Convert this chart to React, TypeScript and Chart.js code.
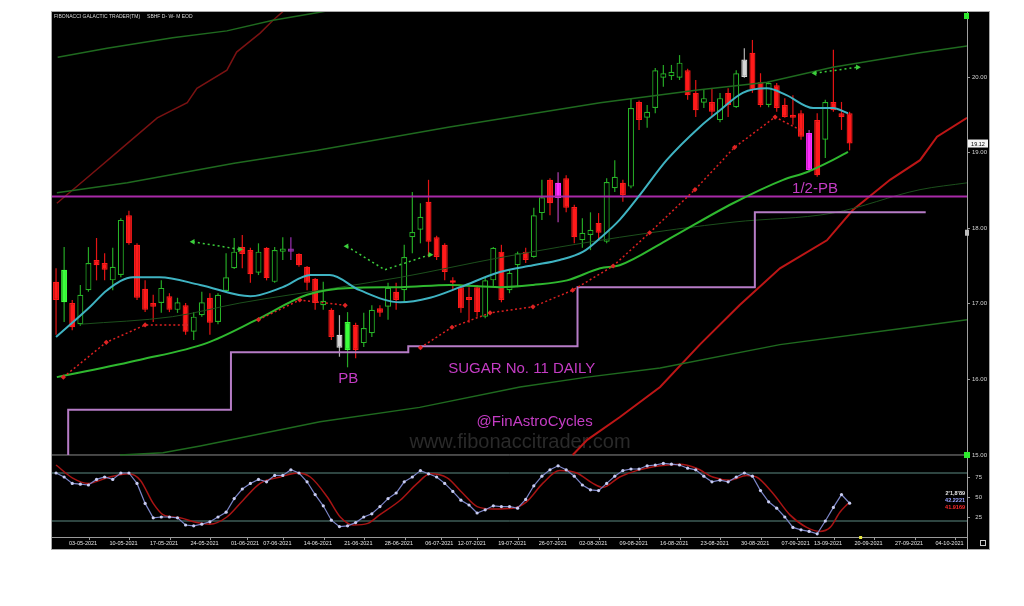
import React, { useEffect, useRef } from "react";
import { Chart, registerables } from "chart.js";

Chart.register(...registerables);

// ---------- Candles (index 0 = 29-04-2021) ----------
const candleOpen = [
  17.29, 17.02, 17.01, 16.73, 17.18, 17.58, 17.54, 17.31, 17.38, 18.17,
  17.78, 17.2, 17.01, 17.01, 17.1, 16.92, 16.98, 16.63, 16.85, 17.08,
  16.76, 17.17, 17.47, 17.75, 17.71, 17.41, 17.74, 17.29, 17.7, 17.72,
  17.66, 17.49, 17.33, 16.98, 16.92, 16.42, 16.39, 16.72, 16.48, 16.61,
  16.94, 16.96, 17.16, 17.18, 17.88, 17.98, 18.35, 17.88, 17.78, 17.31,
  17.22, 17.09, 17.22, 16.83, 17.31, 17.69, 17.18, 17.51, 17.69, 17.62,
  18.2, 18.64, 18.4, 18.66, 18.28, 17.84, 17.91, 18.07, 17.82, 18.53,
  18.6, 18.55, 19.67, 19.46, 19.59, 19.99, 20.01, 19.99, 20.09, 19.79,
  19.66, 19.67, 19.43, 19.79, 19.6, 20.0, 20.32, 19.93, 19.63, 19.89,
  19.63, 19.5, 19.52, 19.26, 19.43, 19.17, 19.67, 19.52, 19.52,
];
const candleHigh = [
  17.47, 17.75, 17.05, 17.25, 17.75, 17.87, 17.67, 17.74, 18.13, 18.23,
  17.8, 17.31, 17.12, 17.31, 17.14, 17.08, 17.01, 16.89, 17.16, 17.14,
  17.14, 17.67, 17.87, 17.91, 17.74, 17.8, 17.75, 17.75, 17.88, 17.88,
  17.67, 17.5, 17.34, 17.29, 16.94, 16.85, 16.89, 16.75, 16.88, 16.98,
  16.98, 17.28, 17.28, 17.78, 18.48, 18.33, 18.64, 17.9, 17.8, 17.35,
  17.25, 17.22, 17.25, 17.35, 17.75, 17.78, 17.45, 17.69, 17.74, 18.27,
  18.64, 18.66, 18.74, 18.7, 18.31, 18.13, 18.21, 18.2, 18.66, 18.9,
  18.64, 19.72, 19.69, 19.63, 20.12, 20.16, 20.16, 20.29, 20.11, 19.96,
  19.83, 19.85, 19.79, 19.85, 20.09, 20.38, 20.49, 20.05, 19.93, 19.92,
  19.72, 19.76, 19.56, 19.3, 19.52, 19.7, 20.36, 19.67, 19.54,
];
const candleLow = [
  16.59, 16.76, 16.65, 16.71, 17.16, 17.31, 17.31, 17.18, 17.35, 17.78,
  17.05, 16.89, 16.76, 16.88, 16.89, 16.88, 16.59, 16.52, 16.83, 16.59,
  16.73, 17.16, 17.46, 17.47, 17.28, 17.38, 17.31, 17.28, 17.58, 17.58,
  17.49, 17.18, 16.92, 16.92, 16.52, 16.3, 16.16, 16.28, 16.43, 16.56,
  16.83, 16.79, 16.92, 17.02, 17.67, 17.8, 17.62, 17.58, 17.31, 17.18,
  16.88, 16.75, 16.83, 16.81, 17.22, 17.02, 17.14, 17.22, 17.54, 17.61,
  18.11, 18.17, 18.08, 18.21, 17.8, 17.74, 17.71, 17.84, 17.8, 18.48,
  18.35, 18.53, 19.3, 19.33, 19.52, 19.87, 19.96, 19.96, 19.7, 19.47,
  19.59, 19.47, 19.4, 19.47, 19.59, 19.99, 19.79, 19.6, 19.6, 19.54,
  19.46, 19.37, 19.17, 18.74, 18.68, 18.93, 19.54, 19.3, 19.03,
];
const candleClose = [
  17.05, 17.45, 16.69, 17.12, 17.54, 17.51, 17.45, 17.49, 18.11, 17.8,
  17.08, 16.92, 16.96, 17.21, 16.92, 17.02, 16.63, 16.83, 17.02, 16.75,
  17.12, 17.35, 17.69, 17.66, 17.39, 17.69, 17.34, 17.71, 17.72, 17.7,
  17.51, 17.28, 17.01, 17.04, 16.56, 16.59, 16.76, 16.39, 16.68, 16.92,
  16.88, 17.21, 17.05, 17.62, 17.95, 18.15, 17.82, 17.62, 17.42, 17.28,
  16.94, 17.05, 16.89, 17.31, 17.74, 17.05, 17.41, 17.67, 17.58, 18.17,
  18.41, 18.33, 18.6, 18.27, 17.88, 17.94, 17.98, 17.94, 18.61, 18.68,
  18.44, 19.59, 19.43, 19.54, 20.09, 20.05, 20.07, 20.19, 19.76, 19.56,
  19.72, 19.54, 19.72, 19.63, 20.05, 20.23, 19.83, 19.63, 19.92, 19.59,
  19.47, 19.46, 19.21, 18.77, 18.7, 19.67, 19.56, 19.47, 19.12,
];
// r = red, g = hollow green, G = bright green, w = white/grey, m = magenta, p = purple doji
const candleKind =
  "rGrggrrggr" + "rrrgrgrggr" + "gggrrgrggp" + "rrrgrwGrgg" + "rgrgggrrrr" +
  "rrrggrggrg" + "grmrrggrgg" + "rgrgggggrr" + "grgrgwrrgr" + "rrrmrgrrr";

// ---------- Axis labels ----------
const dateTickIndex = [2, 7, 12, 17, 22, 26, 31, 36, 41, 46, 50, 55, 60, 65, 70, 75, 80, 85, 90, 94, 99, 104, 109];
const dateTickLabel = [
  "03-05-2021", "10-05-2021", "17-05-2021", "24-05-2021", "01-06-2021", "07-06-2021",
  "14-06-2021", "21-06-2021", "28-06-2021", "06-07-2021", "12-07-2021", "19-07-2021",
  "26-07-2021", "02-08-2021", "09-08-2021", "16-08-2021", "23-08-2021", "30-08-2021",
  "07-09-2021", "13-09-2021", "20-09-2021", "27-09-2021", "04-10-2021",
];
const priceTicks = [15, 16, 17, 18, 19, 20];
const oscTicks = [75, 50, 25];

// ---------- Indicator lines [barIndex, value] ----------
const cyanMA = [
  [0, 16.56], [4.2, 16.96], [6.3, 17.18], [9.5, 17.35], [12.8, 17.35], [17.8, 17.25], [24, 17.1],
  [28, 17.22], [31.4, 17.38], [33.8, 17.38], [37.5, 17.18], [42.5, 17.02], [46.2, 17.08],
  [49.9, 17.22], [54.8, 17.42], [58.9, 17.51], [62.2, 17.58], [65.1, 17.69], [67.2, 17.87],
  [69.6, 18.11], [72.1, 18.44], [75.4, 18.9], [79.5, 19.34], [82, 19.56], [84.8, 19.79],
  [87.8, 19.85], [90.2, 19.76], [93.5, 19.59], [95.9, 19.59], [97.8, 19.52],
];
const greenMA = [
  [0.1, 16.03], [10.4, 16.26], [18.6, 16.48], [24.8, 16.79], [31, 17.12], [36.3, 17.21],
  [42.5, 17.22], [48.6, 17.25], [54.8, 17.22], [58.9, 17.25], [63.1, 17.31], [67.2, 17.47],
  [69.6, 17.51], [75.4, 17.84], [83.6, 18.33], [89.8, 18.64], [92.7, 18.74], [95.9, 18.9], [97.8, 19.01],
];
const darkGreenMA = [
  [3, 16.73], [14.4, 16.83], [22.7, 17.01], [35.1, 17.22], [42.5, 17.35], [54.8, 17.61],
  [69.6, 17.88], [83.6, 18.08], [95.9, 18.2], [106.7, 18.51], [112.5, 18.6],
];
const channelTop = [
  [0.2, 20.26], [6.3, 20.38], [14.4, 20.52], [21.1, 20.61], [26.8, 20.75], [32.2, 20.85], [37.5, 20.95],
];
const channelUpper = [
  [0.1, 18.47], [8.8, 18.6], [22, 18.86], [32.3, 19.03], [48.6, 19.34], [67.2, 19.66],
  [79.5, 19.83], [87.8, 19.93], [95.9, 20.13], [106.7, 20.32], [112.5, 20.41],
];
const channelLower = [
  [7.9, 15.0], [13.2, 15.03], [17.8, 15.12], [32.6, 15.44], [44.9, 15.63], [57.3, 15.9],
  [65.6, 16.03], [74.6, 16.15], [89.4, 16.46], [104.2, 16.67], [112.5, 16.79],
];
const redChannelUpper = [
  [0.1, 18.33], [4.2, 18.7], [7.8, 19.03], [12.5, 19.46], [16.2, 19.66], [17.4, 19.85],
  [21.1, 20.09], [22.3, 20.33], [25.2, 20.58], [26.8, 20.75], [28.9, 20.95],
];
const redChannelLower = [
  [63.8, 15.0], [65.6, 15.2], [69.6, 15.5], [74.6, 15.9], [79.5, 16.46], [84.4, 16.98],
  [89.4, 17.47], [95.2, 17.84], [98.4, 18.24], [103, 18.64], [106.7, 18.9], [108.8, 19.21], [112.5, 19.46],
];
const trailStopA = [[0.9, 16.03], [6.2, 16.49], [11, 16.72], [16, 16.72]];
const trailStopB = [[25, 16.79], [30.1, 17.05], [35.7, 16.98]];
const trailStopC = [
  [45, 16.42], [48.9, 16.69], [53.6, 16.88], [58.9, 16.96], [63.8, 17.18], [68.8, 17.5],
  [73.3, 17.94], [78.9, 18.51], [83.8, 19.07], [88.8, 19.47], [91.9, 19.3],
];
const arrow1 = [[16.9, 17.82], [22.7, 17.72]];
const arrow2 = [[35.9, 17.76], [40.6, 17.45], [46.2, 17.65]];
const arrow3 = [[93.7, 20.05], [99, 20.13]];
const magentaLevel = [[-0.5, 18.42], [112.5, 18.42]];
const lavenderSteps = [
  [1.5, 15.0], [1.5, 15.6], [21.6, 15.6], [21.6, 16.36], [43.5, 16.36], [43.5, 16.44],
  [64.4, 16.44], [64.4, 17.22], [86.3, 17.22], [86.3, 18.21], [107.4, 18.21],
];
const panelSeparator = [[-0.5, 15.0], [112.5, 15.0]];

// ---------- Stochastic oscillator ----------
const stochK = [
  80, 75, 67, 66, 65, 72, 75, 72, 80, 80,
  67, 42, 24, 25, 25, 24, 15, 14, 16, 19,
  25, 31, 48, 60, 67, 72, 69, 77, 77, 84,
  80, 69, 53, 39, 21, 13, 14, 18, 25, 29,
  38, 48, 55, 69, 75, 83, 79, 75, 67, 57,
  46, 40, 30, 34, 39, 38, 38, 36, 47, 64,
  76, 84, 89, 84, 76, 65, 59, 58, 67, 76,
  83, 85, 85, 89, 90, 92, 91, 90, 86, 84,
  76, 69, 71, 69, 75, 80, 76, 58, 44, 36,
  25, 12, 9, 7, 4, 20, 37, 53, 42.22,
];
const stochD = [
  [0, 90], [2, 74], [4, 67], [6.3, 74], [9, 79], [10.4, 71], [12, 42], [13.2, 28], [15.3, 24],
  [17.4, 18], [19, 16], [21.1, 25], [23.1, 46], [25.2, 67], [27.7, 75], [29.8, 80], [31.4, 75],
  [33.5, 50], [35.1, 25], [36.7, 15], [38.5, 17], [40, 28], [42.5, 46], [44.6, 67], [46.2, 79],
  [48.3, 74], [50.2, 55], [52, 38], [54, 35], [56.4, 36], [58.1, 44], [60.1, 67], [62.2, 83],
  [64.3, 80], [66.3, 67], [67.5, 62], [69.6, 75], [71.7, 83], [74.6, 89], [77, 91], [79.1, 86],
  [81.1, 75], [83.2, 71], [85.3, 77], [86.5, 75], [88.5, 55], [90.6, 28], [92.7, 12], [94.3, 7],
  [95.6, 12], [96.8, 31], [97.8, 41.92],
];
const oscLevels = [80, 20];
const oscLegend = ["2'1,8'89", "42.2221", "41.9169"];

// ---------- Text annotations [text, barIndex, price, align] ----------
const annotations: [string, number, number, string][] = [
  ["PB", 36.1, 15.95, "center"],
  ["1/2-PB", 90.9, 18.47, "left"],
  ["SUGAR No. 11 DAILY", 57.5, 16.08, "center"],
  ["@FinAstroCycles", 59.1, 15.38, "center"],
];
const watermark: [string, number, number] = ["www.fibonaccitrader.com", 57.3, 15.09];
const titleText = "FIBONACCI GALACTIC TRADER(TM)     SBHF D- W- M EOD";

const X_MIN = -0.5;
const X_MAX = 112.5;
const PRICE_MIN = 13.9153;
const PRICE_MAX = 20.8598;
const OSC_MIN = 0;
const OSC_MAX = 656.25;

const FONT = 'Arial, "Liberation Sans", sans-serif';

const bodyColor: Record<string, string> = {
  r: "#ff1a1a", g: "#000000", G: "#3cff3c", w: "#d6d6d6", m: "#ff2cff", p: "#9a2fb0",
};
const edgeColor: Record<string, string> = {
  r: "#ff1a1a", g: "#27b327", G: "#3cff3c", w: "#d6d6d6", m: "#ff2cff", p: "#9a2fb0",
};
const wickColor: Record<string, string> = {
  r: "#e41414", g: "#25a825", G: "#25a825", w: "#b0b0b0", m: "#b040b0", p: "#9a2fb0",
};

const pts = (arr: number[][]) => arr.map(([x, y]) => ({ x, y }));
// both value axes span the same pixel range, so oscillator levels can be placed on the price axis
const oscOnPriceAxis = (v: number) =>
  PRICE_MIN + ((v - OSC_MIN) * (PRICE_MAX - PRICE_MIN)) / (OSC_MAX - OSC_MIN);

export default function App() {
  const ref = useRef<HTMLCanvasElement>(null);

  useEffect(() => {
    document.body.style.margin = "0";
    const canvas = ref.current!;
    const kinds = candleKind.split("");

    const lineDs = (label: string, data: number[][], color: string, width: number, extra: any = {}) => ({
      type: "line" as const,
      label,
      data: pts(data),
      borderColor: color,
      backgroundColor: color,
      borderWidth: width,
      pointRadius: 0,
      fill: false,
      yAxisID: "y",
      order: 5,
      ...extra,
    });

    const arrowDs = (label: string, data: number[][]) =>
      lineDs(label, data, "#3ccf3c", 1.5, {
        borderDash: [2, 3],
        pointStyle: "triangle",
        pointRadius: data.map((_, i) => (i === 0 || i === data.length - 1 ? 3.2 : 0)),
        pointRotation: data.map((_, i) => (i === 0 ? -90 : 90)),
        pointBackgroundColor: "#3ccf3c",
        pointBorderWidth: 0,
        order: 2,
      });

    const trailDs = (label: string, data: number[][]) =>
      lineDs(label, data, "#dd2020", 1.5, {
        borderDash: [2, 2.5],
        pointStyle: "rectRot",
        pointRadius: 2.6,
        pointBackgroundColor: "#e02424",
        pointBorderWidth: 0,
        order: 3,
      });

    const decor = {
      id: "decor",
      beforeDraw(chart: any) {
        const { ctx, chartArea } = chart;
        const xs = chart.scales.x;
        const ys = chart.scales.y;
        const l = chartArea.left;
        const t = chartArea.top;
        const r = ys.right;
        const b = xs.bottom;
        ctx.save();
        ctx.fillStyle = "#000";
        ctx.fillRect(l, t, r - l, b - t);
        ctx.strokeStyle = "#a8a8a8";
        ctx.lineWidth = 1;
        ctx.strokeRect(l - 0.5, t - 0.5, r - l + 1, b - t + 1);
        ctx.beginPath();
        ctx.moveTo(chartArea.right + 0.5, t);
        ctx.lineTo(chartArea.right + 0.5, b);
        ctx.stroke();
        ctx.restore();
      },
      beforeDatasetsDraw(chart: any) {
        const { ctx } = chart;
        const xs = chart.scales.x;
        const ys = chart.scales.y;
        ctx.save();
        ctx.font = `20px ${FONT}`;
        ctx.fillStyle = "#2a2a2a";
        ctx.textAlign = "center";
        ctx.textBaseline = "alphabetic";
        ctx.fillText(watermark[0], xs.getPixelForValue(watermark[1]), ys.getPixelForValue(watermark[2]));
        ctx.restore();
      },
      afterDatasetsDraw(chart: any) {
        const { ctx, chartArea } = chart;
        const xs = chart.scales.x;
        const ys = chart.scales.y;
        const yo = chart.scales.yOsc;
        ctx.save();
        ctx.textBaseline = "alphabetic";
        annotations.forEach(([txt, xi, yv, align]) => {
          ctx.font = `15px ${FONT}`;
          ctx.fillStyle = "#c43cc4";
          ctx.textAlign = align as CanvasTextAlign;
          ctx.fillText(txt, xs.getPixelForValue(xi), ys.getPixelForValue(yv));
        });
        // oscillator legend values
        ctx.font = `bold 5.5px ${FONT}`;
        ctx.textAlign = "right";
        const legColors = ["#e8e8e8", "#9aa4ff", "#ff2a2a"];
        const legVals = [55, 46, 37.5];
        oscLegend.forEach((s, i) => {
          ctx.fillStyle = legColors[i];
          ctx.fillText(s, chartArea.right - 2, yo.getPixelForValue(legVals[i]) + 2);
        });
        ctx.restore();
      },
      afterDraw(chart: any) {
        const { ctx, chartArea } = chart;
        const ys = chart.scales.y;
        const xs = chart.scales.x;
        ctx.save();
        // title
        ctx.font = `5px ${FONT}`;
        ctx.fillStyle = "#d8d8d8";
        ctx.textAlign = "left";
        ctx.textBaseline = "alphabetic";
        ctx.fillText(titleText, chartArea.left + 2, chartArea.top + 6);
        // last price box
        const last = candleClose[candleClose.length - 1];
        const py = ys.getPixelForValue(last);
        ctx.fillStyle = "#f4f4f4";
        ctx.fillRect(ys.left + 1, py - 4, 20, 8);
        ctx.fillStyle = "#000";
        ctx.font = `5.5px ${FONT}`;
        ctx.textAlign = "center";
        ctx.textBaseline = "middle";
        ctx.fillText(last.toFixed(2), ys.left + 11, py + 0.5);
        // small markers on right axis
        ctx.fillStyle = "#2ee82e";
        ctx.fillRect(chartArea.right - 3, chartArea.top + 1, 5, 6);
        ctx.fillRect(chartArea.right - 3, ys.getPixelForValue(15) - 3, 6, 6);
        ctx.fillStyle = "#bdbdbd";
        ctx.fillRect(chartArea.right - 2, ys.getPixelForValue(17.94) - 3, 4, 6);
        ctx.fillStyle = "#e8e840";
        ctx.fillRect(xs.getPixelForValue(99.3) - 1, xs.top - 1, 3, 3);
        ctx.strokeStyle = "#c8c8c8";
        ctx.strokeRect(ys.right - 8.5, xs.top + 3.5, 5, 5);
        ctx.restore();
      },
    };

    const chart = new Chart(canvas, {
      type: "line",
      data: {
        datasets: [
          {
            type: "bar",
            label: "wicks",
            data: candleOpen.map((_, i) => ({ x: i, y: [candleLow[i], candleHigh[i]] })) as any,
            backgroundColor: kinds.map((k) => wickColor[k]),
            borderWidth: 0,
            barThickness: 1.2,
            grouped: false,
            inflateAmount: 0,
            yAxisID: "y",
            order: 21,
          } as any,
          {
            type: "bar",
            label: "bodies",
            data: candleOpen.map((o, i) => {
              const c = candleClose[i];
              let lo = Math.min(o, c);
              let hi = Math.max(o, c);
              if (hi - lo < 0.02) { hi += 0.01; lo -= 0.01; }
              return { x: i, y: [lo, hi] };
            }) as any,
            backgroundColor: kinds.map((k) => bodyColor[k]),
            borderColor: kinds.map((k) => edgeColor[k]),
            borderWidth: 1.2,
            borderSkipped: false,
            barThickness: 6,
            grouped: false,
            inflateAmount: 0,
            yAxisID: "y",
            order: 20,
          } as any,
          lineDs("panel separator", panelSeparator, "#8c8c8c", 1, { order: 15 }),
          lineDs("top channel", channelTop, "#1f6a1f", 1.5, { order: 12 }),
          lineDs("upper channel", channelUpper, "#1f6a1f", 1.5, { order: 12 }),
          lineDs("lower channel", channelLower, "#1f6a1f", 1.5, { order: 12 }),
          lineDs("red channel upper", redChannelUpper, "#7a1212", 1.5, { order: 12 }),
          lineDs("red channel lower", redChannelLower, "#bd1616", 2, { order: 12 }),
          lineDs("dark green MA", darkGreenMA, "#1c4f1c", 1, { order: 11, tension: 0.3, cubicInterpolationMode: "monotone" }),
          lineDs("magenta level", magentaLevel, "#a82aa8", 2, { order: 10 }),
          lineDs("lavender steps", lavenderSteps, "#b67cc6", 2, { order: 10 }),
          lineDs("green MA", greenMA, "#2fb82f", 2, { order: 6, cubicInterpolationMode: "monotone" }),
          lineDs("cyan MA", cyanMA, "#3fb3c2", 2, { order: 4, cubicInterpolationMode: "monotone" }),
          trailDs("trail A", trailStopA),
          trailDs("trail B", trailStopB),
          trailDs("trail C", trailStopC),
          arrowDs("arrow 1", arrow1),
          arrowDs("arrow 2", arrow2),
          arrowDs("arrow 3", arrow3),
          ...oscLevels.map((lv) => ({
            type: "line" as const,
            label: "osc level " + lv,
            data: [{ x: X_MIN, y: lv }, { x: X_MAX, y: lv }],
            borderColor: "#5c8a82",
            borderWidth: 1,
            pointRadius: 0,
            yAxisID: "yOsc",
            order: 9,
          })),
          {
            type: "line",
            label: "%D",
            data: pts(stochD),
            borderColor: "#a81414",
            borderWidth: 1.5,
            pointRadius: 0,
            cubicInterpolationMode: "monotone",
            yAxisID: "yOsc",
            order: 8,
          } as any,
          {
            type: "line",
            label: "%K",
            data: stochK.map((v, i) => ({ x: i, y: v })),
            borderColor: "#7d86c8",
            borderWidth: 1.2,
            pointRadius: 1.6,
            pointBackgroundColor: "#c9cdf2",
            pointBorderWidth: 0,
            yAxisID: "yOsc",
            order: 7,
          } as any,
        ],
      },
      options: {
        responsive: false,
        maintainAspectRatio: false,
        animation: false,
        devicePixelRatio: 1,
        layout: { padding: { left: 52, top: 12, right: 35, bottom: 57 } },
        plugins: { legend: { display: false }, tooltip: { enabled: false }, title: { display: false } },
        elements: { line: { tension: 0 } },
        scales: {
          x: {
            type: "linear",
            min: X_MIN,
            max: X_MAX,
            offset: false,
            position: "bottom",
            grid: { display: true, drawOnChartArea: false, drawTicks: true, tickLength: 3, color: "#9a9a9a" },
            border: { display: true, color: "#9a9a9a" },
            ticks: {
              autoSkip: false,
              maxRotation: 0,
              minRotation: 0,
              align: "start",
              padding: 0,
              color: "#e4e4e4",
              font: { size: 5.5, family: FONT },
              callback: (_v: any, i: number) => dateTickLabel[i],
            },
            afterBuildTicks: (s: any) => {
              s.ticks = dateTickIndex.map((v) => ({ value: v - 0.4 }));
            },
            afterFit: (s: any) => {
              s.height = 12;
            },
          },
          yOsc: {
            type: "linear",
            position: "right",
            min: OSC_MIN,
            max: OSC_MAX,
            display: false,
          },
          y: {
            type: "linear",
            position: "right",
            min: PRICE_MIN,
            max: PRICE_MAX,
            grid: { display: true, drawOnChartArea: false, drawTicks: true, tickLength: 3, color: "#9a9a9a" },
            border: { display: true, color: "#a0a0a0" },
            ticks: {
              autoSkip: false,
              padding: 2,
              color: "#d4d4d4",
              font: { size: 6, family: FONT },
              callback: (v: any, i: number) =>
                i < priceTicks.length ? Number(v).toFixed(2) : "  " + String(oscTicks[i - priceTicks.length]),
            },
            afterBuildTicks: (s: any) => {
              s.ticks = [
                ...priceTicks.map((v) => ({ value: v })),
                ...oscTicks.map((v) => ({ value: oscOnPriceAxis(v) })),
              ];
            },
            afterFit: (s: any) => {
              s.width = 22;
            },
          },
        },
      } as any,
      plugins: [decor],
    });

    return () => chart.destroy();
  }, []);

  return (
    <div style={{ position: "fixed", left: 0, top: 0, width: 1024, height: 606, background: "#ffffff" }}>
      <canvas ref={ref} width={1024} height={606} style={{ display: "block", width: 1024, height: 606 }} />
    </div>
  );
}
